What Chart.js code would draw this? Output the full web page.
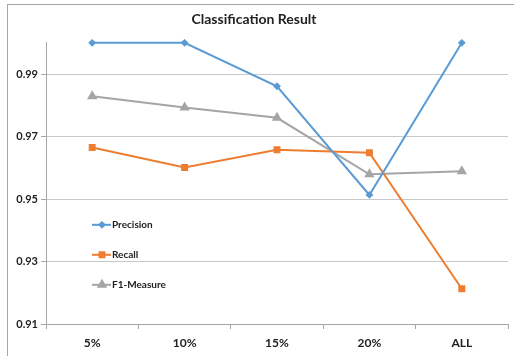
<!DOCTYPE html>
<html lang="en">
<head>
    <meta charset="UTF-8">
    <title>Classification Result</title>
    <script src="https://cdn.jsdelivr.net/npm/chart.js"></script>
    <style>
        html, body { margin: 0; padding: 0; background: #fff; }
        .frame {
            position: absolute; left: 7px; top: 4px; width: 507px; height: 352px;
            border-left: 1px solid #a6a6a6; border-top: 1px solid #a6a6a6;
            pointer-events: none;
        }
        #wrap { position: relative; width: 514px; height: 356px; }
    </style>
</head>
<body>
    <div id="wrap">
        <canvas id="myChart" width="514" height="356"></canvas>
        <div class="frame"></div>
    </div>

    <script>
        const categories = ['5%', '10%', '15%', '20%', 'ALL'];
        const precision = [1.0, 1.0, 0.9861, 0.9513, 1.0];
        const recall = [0.9665, 0.9601, 0.9658, 0.9648, 0.9213];
        const f1Measure = [0.9829, 0.9793, 0.9760, 0.9579, 0.9589];
        const yTicks = [0.91, 0.93, 0.95, 0.97, 0.99];

        const FONT = 'Lato, "Liberation Sans", sans-serif';

        // legend drawn inside the plot, like the Excel original
        const innerLegend = {
            id: 'innerLegend',
            afterDraw(chart) {
                const ctx = chart.ctx;
                const area = chart.chartArea;
                const x0 = area.left + 46;
                let y = area.top + 182;
                chart.data.datasets.forEach(ds => {
                    ctx.save();
                    ctx.strokeStyle = ds.borderColor;
                    ctx.lineWidth = 2;
                    ctx.beginPath();
                    ctx.moveTo(x0, y);
                    ctx.lineTo(x0 + 19, y);
                    ctx.stroke();
                    ctx.fillStyle = ds.borderColor;
                    ctx.strokeStyle = ds.borderColor;
                    Chart.helpers.drawPoint(ctx, {
                        pointStyle: ds.pointStyle,
                        radius: ds.pointRadius,
                        borderWidth: 1
                    }, x0 + 10, y);
                    ctx.fillStyle = '#222';
                    ctx.font = 'bold 10px ' + FONT;
                    ctx.textBaseline = 'middle';
                    ctx.fillText(ds.label, x0 + 20, y);
                    ctx.restore();
                    y += 30;
                });
            }
        };

        const makeSet = (label, data, color, style, r) => ({
            label: label,
            data: data,
            borderColor: color,
            backgroundColor: color,
            pointBackgroundColor: color,
            pointBorderColor: color,
            pointStyle: style,
            pointRadius: r,
            pointHoverRadius: r,
            borderWidth: 2,
            tension: 0,
            clip: false
        });

        new Chart(document.getElementById('myChart'), {
            type: 'line',
            data: {
                labels: categories,
                datasets: [
                    makeSet('Precision', precision, '#5b9bd5', 'rectRot', 2.5),
                    makeSet('Recall', recall, '#ed7d31', 'rect', 3.5),
                    makeSet('F1-Measure', f1Measure, '#a5a5a5', 'triangle', 4)
                ]
            },
            options: {
                responsive: false,
                animation: false,
                layout: { padding: { left: 0, right: 6, top: 0, bottom: 0 } },
                plugins: {
                    legend: { display: false },
                    tooltip: { enabled: false },
                    title: {
                        display: true,
                        text: 'Classification Result',
                        color: '#222',
                        font: { family: FONT, size: 14, weight: 'bold' },
                        padding: { top: 11, bottom: 15 }
                    }
                },
                scales: {
                    x: {
                        offset: true,
                        grid: {
                            offset: true,
                            drawOnChartArea: false,
                            drawTicks: true,
                            tickLength: 5,
                            tickColor: '#a6a6a6'
                        },
                        border: { display: true, color: '#a6a6a6' },
                        ticks: {
                            color: '#222',
                            padding: 7,
                            font: { family: FONT, size: 12, weight: 'bold' }
                        },
                        afterFit(scale) { scale.height = 32; }
                    },
                    y: {
                        min: 0.91,
                        max: 1.0,
                        grid: {
                            color: '#c8c8c8',
                            tickColor: '#a6a6a6',
                            tickLength: 5
                        },
                        border: { display: true, color: '#a6a6a6' },
                        ticks: {
                            color: '#222',
                            padding: 3,
                            font: { family: FONT, size: 11, weight: 'bold' },
                            callback: v => v.toFixed(2)
                        },
                        afterBuildTicks(scale) {
                            scale.ticks = yTicks.map(v => ({ value: v }));
                        },
                        afterFit(scale) { scale.width = 46; }
                    }
                }
            },
            plugins: [innerLegend]
        });
    </script>
</body>
</html>
